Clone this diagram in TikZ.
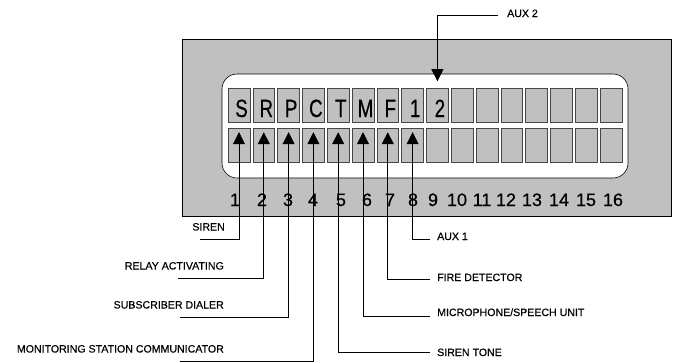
\documentclass[tikz,border=0pt]{standalone}
\usepackage{fontspec}
\setmainfont{Liberation Sans}
\newfontfamily\cellfont[FakeStretch=0.75,FakeBold=0.4]{Liberation Sans}
\newfontfamily\heavyfont[FakeBold=0.5]{Liberation Sans}
\usepackage{tikz}
\usetikzlibrary{arrows.meta}

\definecolor{panelgray}{RGB}{192,192,192}
\definecolor{cellline}{RGB}{70,70,70}

\begin{document}
\begin{tikzpicture}[
    x=1pt, y=-1pt,
    panel/.style={
        draw=black,
        fill=panelgray,
        line width=0.6pt
    },
    window/.style={
        draw=black,
        fill=white,
        rounded corners=15pt,
        line width=0.6pt
    },
    cell/.style={
        draw=cellline,
        fill=panelgray,
        minimum width=21.8pt,
        minimum height=34pt,
        inner sep=0pt,
        line width=0.6pt
    },
    glyph/.style={
        inner sep=0pt,
        anchor=base,
        font=\cellfont\fontsize{25}{25}\selectfont
    },
    digit/.style={
        inner sep=0pt,
        anchor=base,
        font=\heavyfont\fontsize{18}{18}\selectfont
    },
    lbl/.style={
        inner sep=0pt,
        font=\heavyfont\fontsize{10.6}{12}\selectfont
    },
    pointer/.style={
        -{Triangle[length=12pt,width=12pt]},
        line width=0.7pt
    }
]
\useasboundingbox (0,0) rectangle (677,362);

% Panel and display window
\draw[panel] (182,39) rectangle (671,216);
\draw[window] (222,74) rectangle (628,178);

% Two rows of cells
\foreach \i in {1,...,16} {
    \node[cell] (t\i) at ({239+(\i-1)*24.8},105.5) {};
    \node[cell] (b\i) at ({239+(\i-1)*24.8},145.5) {};
}

% Position numbers
\foreach \i/\x in {1/235,2/262,3/288,4/313,5/341,6/367,7/390,8/413,
                   9/433,10/457,11/482,12/506,13/532,14/559,15/586,16/613} {
    \node[digit] (n\i) at (\x,206) {\i};
}

% Letters in the top row
\foreach \i/\c in {1/S,2/R,3/P,4/C,5/T,6/M,7/F,8/1,9/2} {
    \node[glyph] (ch\i) at ([xshift=2.5pt]t\i.center |- 0,117) {\c};
}

% Left labels
\coordinate (sirenend) at (200,239);
\coordinate (relayend) at (178,278);
\coordinate (dialerend) at (180,317);
\coordinate (monitorend) at (180,361);

\node[lbl, anchor=base east] (siren) at (225,230.5) {SIREN};
\node[lbl, anchor=base east] (relay) at (224,269.5) {RELAY ACTIVATING};
\node[lbl, anchor=base east] (dialer) at (224,308.5) {SUBSCRIBER DIALER};
\node[lbl, anchor=base east] (monitor) at (224,352.5) {MONITORING STATION COMMUNICATOR};

\draw[pointer] (sirenend) -| ([yshift=-4pt]b1.north);
\draw[pointer] (relayend) -| ([yshift=-4pt]b2.north);
\draw[pointer] (dialerend) -| ([yshift=-4pt]b3.north);
\draw[pointer] (monitorend) -| ([yshift=-4pt]b4.north);

% Right labels
\coordinate (toneend) at (430,352);
\coordinate (microend) at (430,316);
\coordinate (fireend) at (430,279);
\coordinate (auxoneend) at (430,239);
\coordinate (auxtwoend) at (498,15);

\node[lbl, anchor=base west] (tone) at (437,356) {SIREN TONE};
\node[lbl, anchor=base west] (micro) at (437,316) {MICROPHONE/SPEECH UNIT};
\node[lbl, anchor=base west] (fire) at (437,281) {FIRE DETECTOR};
\node[lbl, anchor=base west] (auxone) at (437,240) {AUX 1};
\node[lbl, anchor=base west] (auxtwo) at (507,17) {AUX 2};

\draw[pointer] (toneend) -| ([yshift=-4pt]b5.north);
\draw[pointer] (microend) -| ([yshift=-4pt]b6.north);
\draw[pointer] (fireend) -| ([yshift=-4pt]b7.north);
\draw[pointer] (auxoneend) -| ([yshift=-4pt]b8.north);
\draw[pointer] (auxtwoend) -| ([yshift=7pt]t9.north);

\end{tikzpicture}
\end{document}
